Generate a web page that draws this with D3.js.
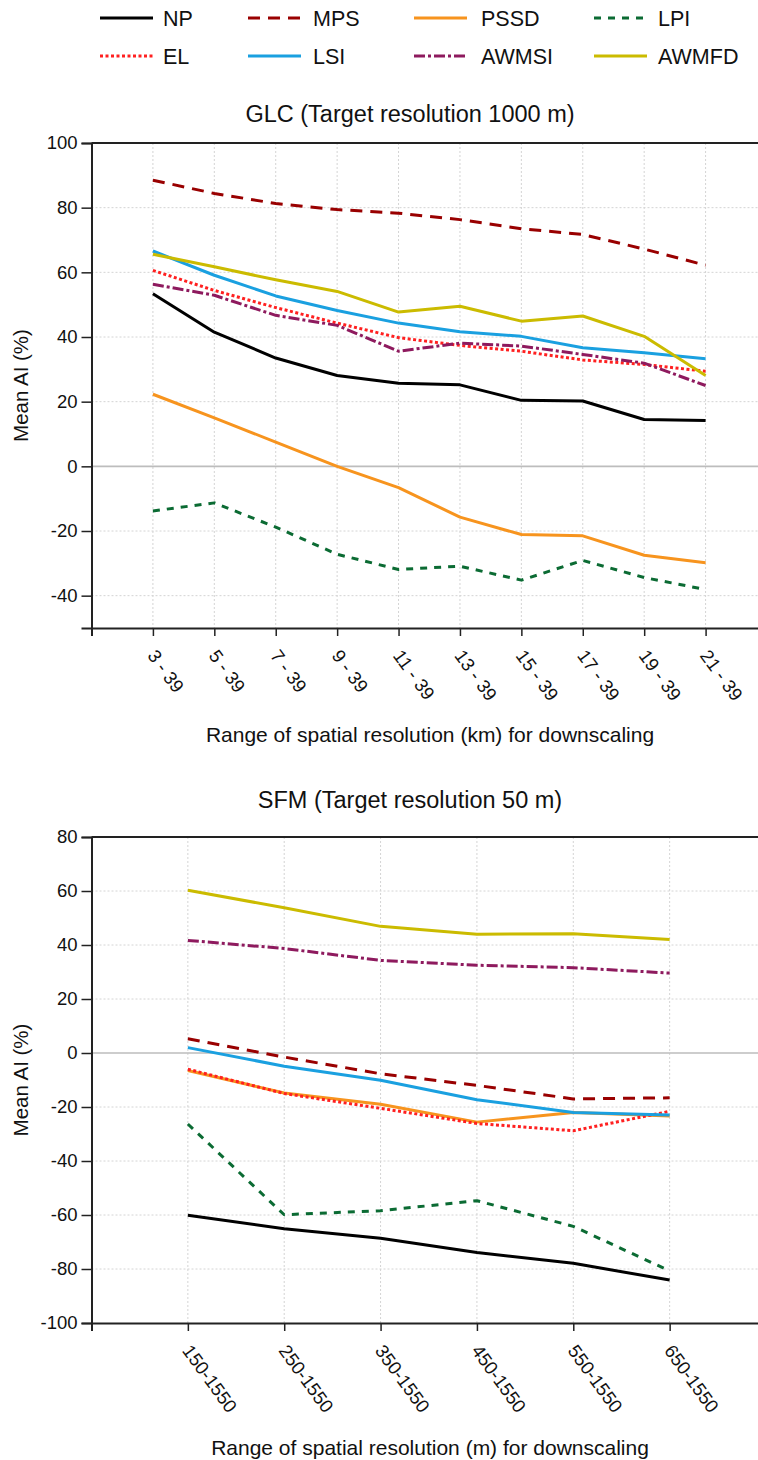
<!DOCTYPE html>
<html>
<head>
<meta charset="utf-8">
<script src="https://cdn.jsdelivr.net/npm/d3@7"></script>
<style>
  body { margin: 0; background: #fff; }
  svg { display: block; font-family: "Liberation Sans", Arial, Helvetica, sans-serif; }
</style>
</head>
<body>
<script>
// Pagestørrelse
const w = 758;
const h = 1460;

// Serienavne og stil
const seriesNames = ["NP", "MPS", "PSSD", "LPI", "EL", "LSI", "AWMSI", "AWMFD"];
const seriesColors = ["#000000", "#990000", "#f7941e", "#0b6b33", "#ff2020", "#1aa0e0", "#8e1a5e", "#cbbb00"];
const seriesDash = [null, "12,8", null, "7,7", "3,2.5", null, "11,3,3,3"];

// GLC (1000 m)
const glcCategories = ["3 - 39", "5 - 39", "7 - 39", "9 - 39", "11 - 39", "13 - 39", "15 - 39", "17 - 39", "19 - 39", "21 - 39"];
const glcNP = [53.4, 41.5, 33.5, 28.1, 25.7, 25.2, 20.4, 20.2, 14.5, 14.2];
const glcMPS = [88.5, 84.4, 81.3, 79.4, 78.3, 76.3, 73.5, 71.7, 67.2, 62.2];
const glcPSSD = [22.3, 15.0, 7.5, 0, -6.6, -15.7, -21.1, -21.5, -27.5, -29.8];
const glcLPI = [-13.8, -11.3, -18.8, -27.2, -31.9, -30.9, -35.2, -29.1, -34.4, -38.1];
const glcEL = [60.6, 54.4, 49.1, 44.3, 39.8, 37.4, 35.6, 32.9, 31.5, 29.4];
const glcLSI = [66.6, 59.1, 52.7, 48.2, 44.3, 41.6, 40.2, 36.7, 35.1, 33.3];
const glcAWMSI = [56.3, 52.9, 46.7, 43.6, 35.6, 38.1, 37.2, 34.6, 31.9, 25.0];
const glcAWMFD = [65.6, 61.7, 57.7, 54.1, 47.7, 49.5, 44.9, 46.5, 40.2, 28.1];
const glcYTicks = [-40, -20, 0, 20, 40, 60, 80, 100];

// SFM (50 m)
const sfmCategories = ["150-1550", "250-1550", "350-1550", "450-1550", "550-1550", "650-1550"];
const sfmNP = [-60.1, -65.1, -68.6, -73.9, -77.9, -84.1];
const sfmMPS = [5.3, -1.5, -7.7, -12.0, -17.0, -16.6];
const sfmPSSD = [-6.5, -14.8, -19.0, -25.6, -22.0, -23.3];
const sfmLPI = [-26.3, -59.9, -58.4, -54.7, -64.2, -80.7];
const sfmEL = [-6.0, -15.0, -20.5, -26.1, -28.8, -21.6];
const sfmLSI = [2.0, -4.9, -10.1, -17.3, -22.0, -23.0];
const sfmAWMSI = [41.7, 38.7, 34.3, 32.5, 31.6, 29.6];
const sfmAWMFD = [60.3, 53.8, 46.9, 44.0, 44.2, 42.0];
const sfmYTicks = [-100, -80, -60, -40, -20, 0, 20, 40, 60, 80];

const svg = d3.select("body").append("svg").attr("width", w).attr("height", h);

// Legend (to rækker, fire kolonner)
const legLineX = [100, 248, 414, 594];
const legTextX = [163, 313, 481, 658];
const legRowY = [18, 56];
seriesNames.forEach(function (name, i) {
  const col = i % 4, row = Math.floor(i / 4);
  const g = svg.append("g");
  g.append("line")
    .attr("x1", legLineX[col]).attr("x2", legLineX[col] + 53)
    .attr("y1", legRowY[row]).attr("y2", legRowY[row])
    .attr("stroke", seriesColors[i])
    .attr("stroke-width", 3)
    .attr("stroke-dasharray", seriesDash[i]);
  g.append("text")
    .attr("x", legTextX[col]).attr("y", legRowY[row] + 8)
    .attr("font-size", "21.5px")
    .attr("fill", "#111")
    .text(name);
});

function drawPanel(opt) {
  const n = opt.categories.length;
  const xScale = d3.scaleLinear().domain([0, n + 1]).range([91.5, opt.right]);
  const yScale = d3.scaleLinear().domain(opt.yDomain).range([opt.bottom, opt.top]);

  // Gitterlinjer
  svg.append("g").selectAll("line")
    .data(d3.range(1, n + 1))
    .enter().append("line")
    .attr("x1", d => xScale(d)).attr("x2", d => xScale(d))
    .attr("y1", opt.top).attr("y2", opt.bottom)
    .attr("stroke", "#d4d4d4").attr("stroke-width", 1).attr("stroke-dasharray", "2,2");
  svg.append("g").selectAll("line")
    .data(opt.yTicks.filter(d => d !== 0 && d !== opt.yDomain[0] && d !== opt.yDomain[1]))
    .enter().append("line")
    .attr("x1", 91.5).attr("x2", w)
    .attr("y1", d => yScale(d)).attr("y2", d => yScale(d))
    .attr("stroke", "#d4d4d4").attr("stroke-width", 1).attr("stroke-dasharray", "2,2");
  svg.append("line")
    .attr("x1", 91.5).attr("x2", w)
    .attr("y1", yScale(0)).attr("y2", yScale(0))
    .attr("stroke", "#bdbdbd").attr("stroke-width", 1.6);

  // Serier
  const line = d3.line()
    .x((d, i) => xScale(i + 1))
    .y(d => yScale(d));
  opt.series.forEach(function (vals, i) {
    svg.append("path")
      .datum(vals)
      .attr("d", line)
      .attr("fill", "none")
      .attr("stroke", seriesColors[i])
      .attr("stroke-width", 3)
      .attr("stroke-linejoin", "round")
      .attr("stroke-dasharray", seriesDash[i]);
  });

  // Ramme top
  svg.append("line")
    .attr("x1", 91.5).attr("x2", w)
    .attr("y1", opt.top).attr("y2", opt.top)
    .attr("stroke", "#222").attr("stroke-width", 2);

  // Akser (bindestreg som minus, som i originalen)
  const yAxis = d3.axisLeft(yScale).tickValues(opt.yTicks).tickSize(10).tickPadding(4)
    .tickFormat(d => String(d));
  const gy = svg.append("g").attr("transform", "translate(91.5,0)").call(yAxis);
  gy.select(".domain").attr("stroke", "#222").attr("stroke-width", 2);
  gy.selectAll(".tick line").attr("stroke", "#222").attr("stroke-width", 1.5);
  gy.selectAll(".tick text").attr("font-size", "18.5px").attr("fill", "#111")
    .attr("font-family", "'Liberation Sans', Arial, sans-serif");

  const xAxis = d3.axisBottom(xScale).tickValues(d3.range(0, n + 1)).tickSize(8).tickFormat("");
  const gx = svg.append("g").attr("transform", "translate(0," + opt.bottom + ")").call(xAxis);
  gx.select(".domain").attr("stroke", "#222").attr("stroke-width", 2);
  gx.selectAll(".tick line").attr("stroke", "#222").attr("stroke-width", 1.5);

  // Skrå kategorietiketter
  svg.append("g").selectAll("text")
    .data(opt.categories)
    .enter().append("text")
    .attr("transform", (d, i) => "translate(" + (xScale(i + 1) - 1) + "," + (opt.bottom + 24) + ") rotate(54)")
    .attr("dy", "0.35em")
    .attr("font-size", "18.5px")
    .attr("fill", "#111")
    .text(d => d);

  // Titler
  svg.append("text")
    .attr("x", 410).attr("y", opt.titleY)
    .attr("text-anchor", "middle")
    .attr("font-size", "23.5px").attr("fill", "#111")
    .text(opt.title);
  svg.append("text")
    .attr("x", 430).attr("y", opt.xTitleY)
    .attr("text-anchor", "middle")
    .attr("font-size", "21px").attr("fill", "#111")
    .text(opt.xTitle);
  svg.append("text")
    .attr("transform", "translate(28," + ((opt.top + opt.bottom) / 2) + ") rotate(-90)")
    .attr("text-anchor", "middle")
    .attr("font-size", "20.5px").attr("fill", "#111")
    .text("Mean AI (%)");
}

drawPanel({
  categories: glcCategories,
  series: [glcNP, glcMPS, glcPSSD, glcLPI, glcEL, glcLSI, glcAWMSI, glcAWMFD],
  yDomain: [-50, 100],
  yTicks: glcYTicks,
  top: 143, bottom: 628, right: 767,
  title: "GLC (Target resolution 1000 m)", titleY: 122,
  xTitle: "Range of spatial resolution (km) for downscaling", xTitleY: 742
});

drawPanel({
  categories: sfmCategories,
  series: [sfmNP, sfmMPS, sfmPSSD, sfmLPI, sfmEL, sfmLSI, sfmAWMSI, sfmAWMFD],
  yDomain: [-100, 80],
  yTicks: sfmYTicks,
  top: 837, bottom: 1323, right: 766,
  title: "SFM (Target resolution 50 m)", titleY: 808,
  xTitle: "Range of spatial resolution (m) for downscaling", xTitleY: 1455
});
</script>
</body>
</html>
